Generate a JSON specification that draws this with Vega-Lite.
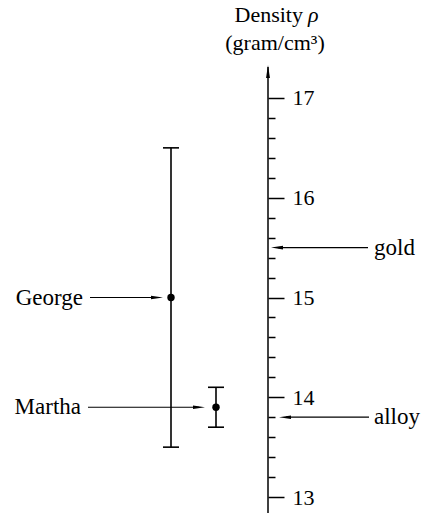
{
  "$schema": "https://vega.github.io/schema/vega-lite/v6.json",
  "width": 422,
  "height": 513,
  "padding": 0,
  "autosize": {"type": "none"},
  "background": "white",
  "config": {"view": {"stroke": null}, "font": "Liberation Serif"},
  "datasets": {
    "meas": [
      {"name": "George", "rho": 15.0, "lo": 13.5, "hi": 16.5},
      {"name": "Martha", "rho": 13.9, "lo": 13.7, "hi": 14.1}
    ],
    "refs": [
      {"name": "gold", "rho": 15.5},
      {"name": "alloy", "rho": 13.8}
    ],
    "heading": [{"line1": "Density", "sym": "ρ", "line2": "(gram/cm³)"}]
  },
  "layer": [
    {
      "data": {"name": "heading"},
      "layer": [
        {
          "mark": {"type": "rule", "strokeWidth": 1.5, "color": "black"},
          "encoding": {
            "x": {"datum": 268, "type": "quantitative", "scale": {"domain": [0, 422], "nice": false, "zero": false}, "axis": null},
            "y": {"datum": 17.311, "type": "quantitative", "scale": {"domain": [12.84, 17.982], "nice": false, "zero": false}, "title": null},
            "y2": {"datum": 12.84}
          }
        },
        {
          "mark": {"type": "point", "shape": "M0,-1L0.3,1L-0.3,1Z", "filled": true, "size": 169, "color": "black", "opacity": 1},
          "encoding": {
            "x": {"datum": 268, "type": "quantitative", "axis": null},
            "y": {"datum": 17.266, "type": "quantitative", "title": null}
          }
        },
        {
          "mark": {"type": "text", "align": "right", "baseline": "middle", "fontSize": 22, "color": "black"},
          "encoding": {
            "x": {"datum": 303, "type": "quantitative", "axis": null},
            "y": {"datum": 17.832, "type": "quantitative", "title": null},
            "text": {"field": "line1"}
          }
        },
        {
          "mark": {"type": "text", "align": "left", "baseline": "middle", "fontSize": 22, "fontStyle": "italic", "color": "black"},
          "encoding": {
            "x": {"datum": 308, "type": "quantitative", "axis": null},
            "y": {"datum": 17.832, "type": "quantitative", "title": null},
            "text": {"field": "sym"}
          }
        },
        {
          "mark": {"type": "text", "align": "center", "baseline": "middle", "fontSize": 22, "color": "black"},
          "encoding": {
            "x": {"datum": 275, "type": "quantitative", "axis": null},
            "y": {"datum": 17.551, "type": "quantitative", "title": null},
            "text": {"field": "line2"}
          }
        }
      ]
    },
    {
      "data": {"name": "meas"},
      "transform": [{"filter": "datum.name === 'George'"}],
      "layer": [
        {
          "mark": {"type": "rule", "strokeWidth": 1.6, "color": "black"},
          "encoding": {
            "x": {"datum": 171, "type": "quantitative", "axis": null},
            "y": {
              "field": "lo", "type": "quantitative", "title": null,
              "axis": {
                "orient": "right", "offset": -154, "domain": false, "grid": false, "title": null,
                "values": [13, 13.2, 13.4, 13.6, 13.8, 14, 14.2, 14.4, 14.6, 14.8, 15, 15.2, 15.4, 15.6, 15.8, 16, 16.2, 16.4, 16.6, 16.8, 17],
                "tickCount": 40,
                "tickSize": {"condition": {"test": "abs(datum.value - round(datum.value)) < 0.01", "value": 16}, "value": 7},
                "tickWidth": 1.5, "tickColor": "black",
                "labelExpr": "abs(datum.value - round(datum.value)) < 0.01 ? format(datum.value, 'd') : ''",
                "labelFont": "Liberation Serif", "labelFontSize": 22, "labelColor": "black",
                "labelPadding": 8, "labelBaseline": "middle", "labelAlign": "left",
                "labelOverlap": false, "labelBound": false
              }
            },
            "y2": {"field": "hi"}
          }
        },
        {
          "mark": {"type": "rule", "strokeWidth": 1.6, "color": "black"},
          "encoding": {
            "x": {"datum": 163, "type": "quantitative", "axis": null},
            "x2": {"datum": 179},
            "y": {"field": "lo", "type": "quantitative", "title": null}
          }
        },
        {
          "mark": {"type": "rule", "strokeWidth": 1.6, "color": "black"},
          "encoding": {
            "x": {"datum": 163, "type": "quantitative", "axis": null},
            "x2": {"datum": 179},
            "y": {"field": "hi", "type": "quantitative", "title": null}
          }
        },
        {
          "mark": {"type": "point", "filled": true, "size": 55, "color": "black", "opacity": 1},
          "encoding": {
            "x": {"datum": 171, "type": "quantitative", "axis": null},
            "y": {"field": "rho", "type": "quantitative", "title": null}
          }
        },
        {
          "mark": {"type": "text", "align": "right", "baseline": "middle", "fontSize": 23, "color": "black"},
          "encoding": {
            "x": {"datum": 83, "type": "quantitative", "axis": null},
            "y": {"field": "rho", "type": "quantitative", "title": null},
            "text": {"field": "name"}
          }
        },
        {
          "mark": {"type": "rule", "strokeWidth": 1.2, "color": "black"},
          "encoding": {
            "x": {"datum": 90, "type": "quantitative", "axis": null},
            "x2": {"datum": 157},
            "y": {"field": "rho", "type": "quantitative", "title": null}
          }
        },
        {
          "mark": {"type": "point", "shape": "M1,0L-1,-0.3L-1,0.3Z", "filled": true, "size": 144, "color": "black", "opacity": 1},
          "encoding": {
            "x": {"datum": 157, "type": "quantitative", "axis": null},
            "y": {"field": "rho", "type": "quantitative", "title": null}
          }
        }
      ]
    },
    {
      "data": {"name": "meas"},
      "transform": [{"filter": "datum.name === 'Martha'"}],
      "layer": [
        {
          "mark": {"type": "rule", "strokeWidth": 1.6, "color": "black"},
          "encoding": {
            "x": {"datum": 216, "type": "quantitative", "axis": null},
            "y": {"field": "lo", "type": "quantitative", "title": null},
            "y2": {"field": "hi"}
          }
        },
        {
          "mark": {"type": "rule", "strokeWidth": 1.6, "color": "black"},
          "encoding": {
            "x": {"datum": 208, "type": "quantitative", "axis": null},
            "x2": {"datum": 224},
            "y": {"field": "lo", "type": "quantitative", "title": null}
          }
        },
        {
          "mark": {"type": "rule", "strokeWidth": 1.6, "color": "black"},
          "encoding": {
            "x": {"datum": 208, "type": "quantitative", "axis": null},
            "x2": {"datum": 224},
            "y": {"field": "hi", "type": "quantitative", "title": null}
          }
        },
        {
          "mark": {"type": "point", "filled": true, "size": 55, "color": "black", "opacity": 1},
          "encoding": {
            "x": {"datum": 216, "type": "quantitative", "axis": null},
            "y": {"field": "rho", "type": "quantitative", "title": null}
          }
        },
        {
          "mark": {"type": "text", "align": "right", "baseline": "middle", "fontSize": 23, "color": "black"},
          "encoding": {
            "x": {"datum": 81, "type": "quantitative", "axis": null},
            "y": {"field": "rho", "type": "quantitative", "title": null},
            "text": {"field": "name"}
          }
        },
        {
          "mark": {"type": "rule", "strokeWidth": 1.2, "color": "black"},
          "encoding": {
            "x": {"datum": 88, "type": "quantitative", "axis": null},
            "x2": {"datum": 199},
            "y": {"field": "rho", "type": "quantitative", "title": null}
          }
        },
        {
          "mark": {"type": "point", "shape": "M1,0L-1,-0.3L-1,0.3Z", "filled": true, "size": 144, "color": "black", "opacity": 1},
          "encoding": {
            "x": {"datum": 199, "type": "quantitative", "axis": null},
            "y": {"field": "rho", "type": "quantitative", "title": null}
          }
        }
      ]
    },
    {
      "data": {"name": "refs"},
      "transform": [{"filter": "datum.name === 'gold'"}],
      "layer": [
        {
          "mark": {"type": "text", "align": "left", "baseline": "middle", "fontSize": 23, "color": "black"},
          "encoding": {
            "x": {"datum": 374, "type": "quantitative", "axis": null},
            "y": {"field": "rho", "type": "quantitative", "title": null},
            "text": {"field": "name"}
          }
        },
        {
          "mark": {"type": "rule", "strokeWidth": 1.2, "color": "black"},
          "encoding": {
            "x": {"datum": 278, "type": "quantitative", "axis": null},
            "x2": {"datum": 368},
            "y": {"field": "rho", "type": "quantitative", "title": null}
          }
        },
        {
          "mark": {"type": "point", "shape": "M-1,0L1,-0.3L1,0.3Z", "filled": true, "size": 144, "color": "black", "opacity": 1},
          "encoding": {
            "x": {"datum": 277, "type": "quantitative", "axis": null},
            "y": {"field": "rho", "type": "quantitative", "title": null}
          }
        }
      ]
    },
    {
      "data": {"name": "refs"},
      "transform": [{"filter": "datum.name === 'alloy'"}],
      "layer": [
        {
          "mark": {"type": "text", "align": "left", "baseline": "middle", "fontSize": 23, "color": "black"},
          "encoding": {
            "x": {"datum": 374, "type": "quantitative", "axis": null},
            "y": {"field": "rho", "type": "quantitative", "title": null},
            "text": {"field": "name"}
          }
        },
        {
          "mark": {"type": "rule", "strokeWidth": 1.2, "color": "black"},
          "encoding": {
            "x": {"datum": 286, "type": "quantitative", "axis": null},
            "x2": {"datum": 369},
            "y": {"field": "rho", "type": "quantitative", "title": null}
          }
        },
        {
          "mark": {"type": "point", "shape": "M-1,0L1,-0.3L1,0.3Z", "filled": true, "size": 144, "color": "black", "opacity": 1},
          "encoding": {
            "x": {"datum": 285, "type": "quantitative", "axis": null},
            "y": {"field": "rho", "type": "quantitative", "title": null}
          }
        }
      ]
    }
  ]
}
